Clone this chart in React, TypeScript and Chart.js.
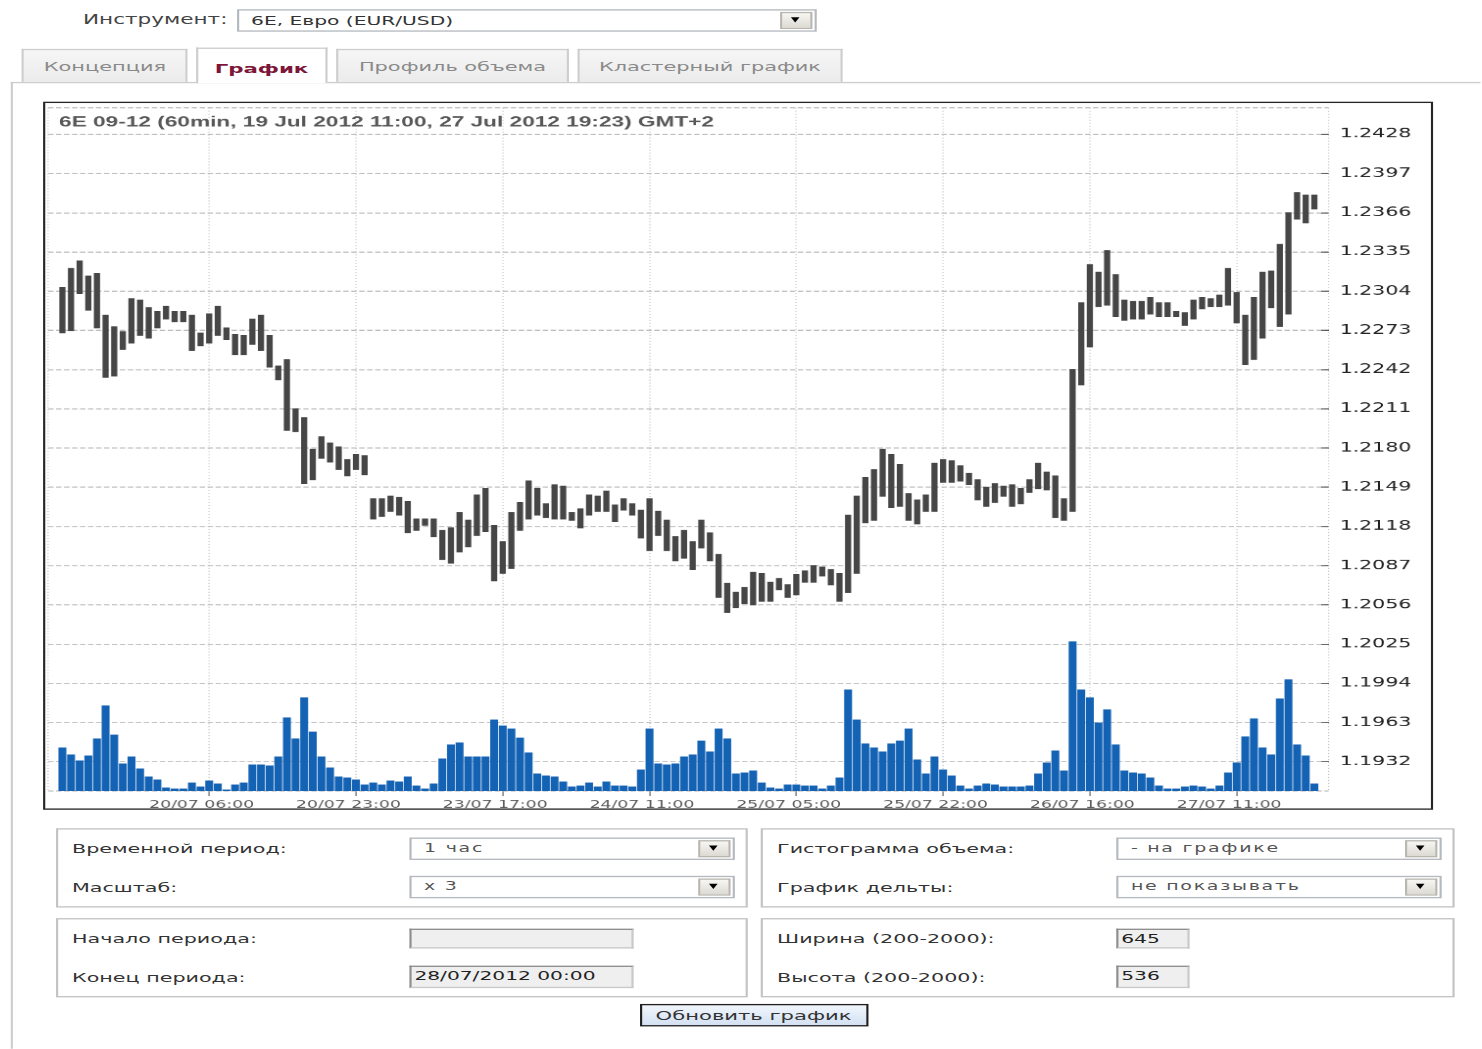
import React, { useEffect, useRef } from 'react';
import { Chart, registerables } from 'chart.js';

Chart.register(...registerables);

// The reference is a screenshot of a small page stretched non-uniformly.
const SX = 2.155;
const SY = 1.321;

const chartTitle = '6E 09-12 (60min, 19 Jul 2012 11:00, 27 Jul 2012 19:23) GMT+2';

const highs = [
  1.2307, 1.2322, 1.2328, 1.2316, 1.2318, 1.2285, 1.2276, 1.2272, 1.2298, 1.2297,
  1.2291, 1.2288, 1.2292, 1.2288, 1.2288, 1.2285, 1.2271, 1.2286, 1.2292, 1.2275,
  1.2270, 1.2269, 1.2282, 1.2285, 1.2269, 1.2245, 1.2250, 1.2211, 1.2204, 1.2179,
  1.2189, 1.2184, 1.2181, 1.2171, 1.2175, 1.2174, 1.2140, 1.2140, 1.2142, 1.2141,
  1.2138, 1.2124, 1.2124, 1.2124, 1.2115, 1.2117, 1.2129, 1.2123, 1.2143, 1.2148,
  1.2119, 1.2106, 1.2129, 1.2137, 1.2154, 1.2148, 1.2136, 1.2151, 1.2150, 1.2129,
  1.2132, 1.2143, 1.2142, 1.2146, 1.2135, 1.2140, 1.2136, 1.2131, 1.2140, 1.2130,
  1.2123, 1.2110, 1.2115, 1.2106, 1.2123, 1.2113, 1.2096, 1.2073, 1.2066, 1.2070,
  1.2082, 1.2081, 1.2074, 1.2077, 1.2072, 1.2080, 1.2083, 1.2087, 1.2086, 1.2084,
  1.2081, 1.2127, 1.2142, 1.2157, 1.2163, 1.2179, 1.2175, 1.2167, 1.2144, 1.2139,
  1.2143, 1.2168, 1.2171, 1.2170, 1.2166, 1.2160, 1.2155, 1.2149, 1.2152, 1.2150,
  1.2151, 1.2148, 1.2155, 1.2168, 1.2161, 1.2158, 1.2140, 1.2242, 1.2295, 1.2325,
  1.2319, 1.2336, 1.2317, 1.2297, 1.2296, 1.2296, 1.2299, 1.2295, 1.2295, 1.2288,
  1.2287, 1.2297, 1.2299, 1.2298, 1.2301, 1.2322, 1.2303, 1.2285, 1.2299, 1.2319,
  1.2320, 1.2341, 1.2366, 1.2382, 1.2380, 1.2380,
];

const lows = [
  1.2271, 1.2273, 1.2302, 1.2289, 1.2275, 1.2236, 1.2237, 1.2258, 1.2263, 1.2269,
  1.2267, 1.2275, 1.2282, 1.2280, 1.2280, 1.2257, 1.2261, 1.2263, 1.2269, 1.2266,
  1.2254, 1.2254, 1.2262, 1.2257, 1.2244, 1.2234, 1.2194, 1.2193, 1.2152, 1.2155,
  1.2172, 1.2169, 1.2163, 1.2158, 1.2163, 1.2159, 1.2124, 1.2126, 1.2130, 1.2127,
  1.2113, 1.2115, 1.2119, 1.2110, 1.2092, 1.2089, 1.2098, 1.2102, 1.2111, 1.2114,
  1.2075, 1.2081, 1.2085, 1.2115, 1.2124, 1.2127, 1.2125, 1.2124, 1.2124, 1.2123,
  1.2117, 1.2127, 1.2130, 1.2130, 1.2122, 1.2131, 1.2127, 1.2109, 1.2099, 1.2111,
  1.2099, 1.2091, 1.2093, 1.2084, 1.2101, 1.2091, 1.2062, 1.2050, 1.2054, 1.2057,
  1.2056, 1.2059, 1.2059, 1.2068, 1.2062, 1.2064, 1.2074, 1.2074, 1.2079, 1.2072,
  1.2059, 1.2066, 1.2081, 1.2121, 1.2123, 1.2142, 1.2133, 1.2134, 1.2123, 1.2120,
  1.2130, 1.2130, 1.2153, 1.2153, 1.2154, 1.2151, 1.2139, 1.2134, 1.2137, 1.2142,
  1.2134, 1.2136, 1.2145, 1.2148, 1.2147, 1.2125, 1.2123, 1.2130, 1.2230, 1.2260,
  1.2292, 1.2293, 1.2284, 1.2281, 1.2282, 1.2282, 1.2286, 1.2284, 1.2284, 1.2284,
  1.2277, 1.2282, 1.2290, 1.2292, 1.2292, 1.2293, 1.2279, 1.2246, 1.2250, 1.2267,
  1.2291, 1.2276, 1.2286, 1.2361, 1.2358, 1.2369,
];

// volume, hundreds of contracts (relative)
const volumes = [
  43, 36, 30, 35, 52, 85, 56, 27, 34, 22,
  14, 11, 3, 2, 2, 8, 4, 10, 7, 1,
  6, 8, 26, 26, 25, 34, 73, 52, 93, 59,
  34, 23, 14, 13, 11, 6, 8, 6, 10, 9,
  14, 5, 2, 7, 32, 46, 48, 34, 34, 34,
  71, 65, 62, 53, 38, 17, 15, 14, 9, 4,
  5, 8, 4, 9, 5, 5, 4, 21, 62, 27,
  26, 27, 34, 36, 50, 39, 62, 52, 17, 18,
  20, 8, 3, 2, 6, 6, 5, 5, 2, 5,
  13, 101, 71, 47, 43, 39, 47, 50, 62, 31,
  17, 34, 21, 15, 5, 2, 5, 7, 6, 4,
  4, 4, 5, 17, 28, 40, 20, 149, 101, 93,
  68, 81, 46, 20, 18, 17, 13, 5, 2, 2,
  4, 5, 4, 2, 5, 18, 28, 54, 72, 43,
  36, 92, 111, 46, 35, 7,
];

const yTickValues = [
  1.1932, 1.1963, 1.1994, 1.2025, 1.2056, 1.2087, 1.2118, 1.2149, 1.2180,
  1.2211, 1.2242, 1.2273, 1.2304, 1.2335, 1.2366, 1.2397, 1.2428,
];
const xTickBars = [17, 34, 51, 68, 85, 102, 119, 136];
const xTickLabels = [
  '20/07 06:00', '20/07 23:00', '23/07 17:00', '24/07 11:00',
  '25/07 05:00', '25/07 22:00', '26/07 16:00', '27/07 11:00',
];

const GRID = '#bcbcbc';

const framePlugin = {
  id: 'plotFrame',
  beforeDatasetsDraw(chart: any) {
    const { ctx, chartArea: a } = chart;
    ctx.save();
    ctx.strokeStyle = GRID;
    const line = (x1: number, y1: number, x2: number, y2: number) => {
      ctx.beginPath();
      ctx.moveTo(x1, y1);
      ctx.lineTo(x2, y2);
      ctx.stroke();
    };
    ctx.lineWidth = 0.75;
    ctx.setLineDash([2.5, 1.2]);
    line(a.left, a.top, a.right, a.top);
    line(a.left, a.bottom, a.right, a.bottom);
    ctx.lineWidth = 0.5;
    ctx.setLineDash([0.76, 1.5]);
    line(a.left, a.top, a.left, a.bottom);
    line(a.right, a.top, a.right, a.bottom);
    ctx.setLineDash([]);
    ctx.fillStyle = '#585858';
    ctx.font = 'bold 10.5px "Liberation Sans", Arial, sans-serif';
    ctx.textBaseline = 'middle';
    ctx.textAlign = 'left';
    ctx.fillText(chartTitle, a.left + 5.1, a.top + 11.3);
    ctx.restore();
  },
};

function PriceChart() {
  const ref = useRef<HTMLCanvasElement | null>(null);
  useEffect(() => {
    if (!ref.current) return;
    const priceData = highs.map((h, i) => ({ x: i, y: [lows[i], h] }));
    const volData = volumes.map((v, i) => ({ x: i, y: v }));
    const chart = new Chart(ref.current, {
      type: 'bar',
      data: {
        datasets: [
          {
            label: 'Price',
            data: priceData as any,
            backgroundColor: '#464646',
            barThickness: 2.2,
            grouped: false,
            yAxisID: 'y',
            order: 1,
          } as any,
          {
            label: 'Volume',
            data: volData as any,
            backgroundColor: '#1462b4',
            barThickness: 3.0,
            grouped: false,
            yAxisID: 'yv',
            order: 2,
          } as any,
        ],
      },
      options: {
        animation: false,
        responsive: false,
        devicePixelRatio: 2.2,
        events: [],
        layout: { padding: { left: 1.3, top: 3.56, right: 0, bottom: 0 } },
        plugins: {
          legend: { display: false },
          tooltip: { enabled: false },
          title: { display: false },
        },
        scales: {
          x: {
            type: 'linear',
            min: -1.66,
            max: 146.66,
            offset: false,
            afterBuildTicks: (s: any) => {
              s.ticks = xTickBars.map((v) => ({ value: v }));
            },
            afterFit: (s: any) => {
              s.height = 13.6;
              s.paddingLeft = 0;
              s.paddingRight = 0;
            },
            grid: {
              offset: false,
              color: GRID,
              lineWidth: 0.5,
              tickLength: 3.8,
              tickColor: '#555',
              tickWidth: 0.5,
            },
            border: { display: false, dash: [0.76, 1.5] },
            ticks: {
              autoSkip: false,
              maxRotation: 0,
              minRotation: 0,
              padding: 2,
              labelOffset: -3.5,
              color: '#5a5a5a',
              font: { family: '"DejaVu Sans", sans-serif', size: 8 },
              callback: (_v: any, i: number) => xTickLabels[i] ?? '',
            },
          },
          y: {
            position: 'right',
            min: 1.1909,
            max: 1.2449,
            afterBuildTicks: (s: any) => {
              s.ticks = yTickValues.map((v) => ({ value: v }));
            },
            afterFit: (s: any) => {
              s.width = 47.7;
              s.paddingTop = 0;
              s.paddingBottom = 0;
            },
            grid: {
              color: GRID,
              lineWidth: 0.75,
              tickLength: -3.5,
              tickColor: '#555',
              tickWidth: 0.75,
            },
            border: { display: false, dash: [2.5, 1.2] },
            ticks: {
              padding: 8.6,
              color: '#222',
              font: { family: '"DejaVu Sans", sans-serif', size: 9.5 },
              callback: (v: any) => Number(v).toFixed(4),
            },
          },
          yv: {
            display: false,
            min: 0,
            max: 682.7,
          },
        },
      } as any,
      plugins: [framePlugin],
    });
    return () => chart.destroy();
  }, []);
  return <canvas ref={ref} width={643} height={534} style={{ display: 'block' }} />;
}

const FONT = '"DejaVu Sans", Verdana, sans-serif';

function Txt(props: { x: number; y: number; size?: number; bold?: boolean; color?: string; children: React.ReactNode; spacing?: number }) {
  const size = props.size ?? 9.6;
  return (
    <div
      style={{
        position: 'absolute',
        left: props.x,
        top: props.y - size * 0.6,
        height: size * 1.2,
        lineHeight: `${size * 1.2}px`,
        fontSize: size,
        fontWeight: props.bold ? 'bold' : 'normal',
        color: props.color ?? '#333',
        whiteSpace: 'nowrap',
        letterSpacing: props.spacing ?? 0,
      }}
    >
      {props.children}
    </div>
  );
}

function Arrow() {
  return (
    <div
      style={{
        position: 'absolute',
        right: 1,
        top: 1,
        bottom: 1,
        width: 15,
        boxSizing: 'border-box',
        background: 'linear-gradient(#f7f6f2, #dcdad3)',
        border: '1px solid #b8b6ae',
      }}
    >
      <div
        style={{
          position: 'absolute',
          left: '50%',
          top: '50%',
          marginLeft: -2.6,
          marginTop: -2,
          width: 0,
          height: 0,
          borderLeft: '2.6px solid transparent',
          borderRight: '2.6px solid transparent',
          borderTop: '4px solid #000',
        }}
      />
    </div>
  );
}

function Select(props: { x: number; y: number; w: number; h: number; text: string; size?: number; spacing?: number; color?: string }) {
  const size = props.size ?? 8.8;
  return (
    <div
      style={{
        position: 'absolute',
        left: props.x,
        top: props.y,
        width: props.w,
        height: props.h,
        boxSizing: 'border-box',
        border: '1px solid #b4b9bf',
        background: '#fff',
      }}
    >
      <div
        style={{
          position: 'absolute',
          left: 5.5,
          top: 0,
          height: props.h - 2,
          lineHeight: `${props.h - 2}px`,
          fontSize: size,
          color: props.color ?? '#555',
          letterSpacing: props.spacing ?? 0,
          whiteSpace: 'nowrap',
        }}
      >
        {props.text}
      </div>
      <Arrow />
    </div>
  );
}

function Input(props: { x: number; y: number; w: number; h: number; text?: string }) {
  return (
    <div
      style={{
        position: 'absolute',
        left: props.x,
        top: props.y,
        width: props.w,
        height: props.h,
        boxSizing: 'border-box',
        borderTop: '1px solid #8e8e8e',
        borderLeft: '1px solid #8e8e8e',
        borderRight: '1px solid #c9c9c9',
        borderBottom: '1px solid #c9c9c9',
        background: '#efefef',
        fontSize: 9.4,
        lineHeight: `${props.h - 2}px`,
        paddingLeft: 1.0,
        color: '#222',
        whiteSpace: 'nowrap',
      }}
    >
      {props.text ?? ''}
    </div>
  );
}

function Box(props: { x: number; y: number; w: number; h: number }) {
  return (
    <div
      style={{
        position: 'absolute',
        left: props.x,
        top: props.y,
        width: props.w,
        height: props.h,
        boxSizing: 'border-box',
        border: '1px solid #c3c3c3',
      }}
    />
  );
}

function Tab(props: { x: number; w: number; text: string; active?: boolean }) {
  const active = !!props.active;
  return (
    <div
      style={{
        position: 'absolute',
        left: props.x,
        top: active ? 35.6 : 37.1,
        width: props.w,
        height: active ? 27.6 : 25,
        boxSizing: 'border-box',
        border: '1px solid #cdcdcd',
        borderBottom: 'none',
        background: active ? '#fff' : 'linear-gradient(#f6f6f6, #ebebeb)',
        textAlign: 'center',
        lineHeight: active ? '29px' : '26.4px',
        fontSize: active ? 9.9 : 9.7,
        fontWeight: active ? 'bold' : 'normal',
        color: active ? '#7d1638' : '#8a8a8a',
        zIndex: active ? 2 : 1,
        whiteSpace: 'nowrap',
      }}
    >
      {props.text}
    </div>
  );
}

export default function App() {
  return (
    <>
      <style>{'html,body{overflow:hidden;background:#fff;}'}</style>
      <div
        style={{
          position: 'absolute',
          left: 0,
          top: 0,
          width: 687,
          height: 794,
          transform: `scale(${SX}, ${SY})`,
          transformOrigin: '0 0',
          fontFamily: FONT,
          background: '#fff',
          overflow: 'hidden',
        }}
      >
        <Txt x={38.5} y={15.4} size={10} color="#444">Инструмент:</Txt>
        <Select x={110} y={6.8} w={269} h={17.4} text="6E, Евро (EUR/USD)" size={9.4} color="#333" />

        <div
          style={{
            position: 'absolute',
            left: 4.6,
            top: 62.1,
            width: 684,
            height: 740,
            boxSizing: 'border-box',
            borderTop: '1px solid #cdcdcd',
            borderLeft: '1px solid #cdcdcd',
          }}
        />
        <Tab x={10.2} w={77} text="Концепция" />
        <Tab x={90.5} w={61.7} text="График" active />
        <Tab x={156.4} w={107.2} text="Профиль объема" />
        <Tab x={268.2} w={122.5} text="Кластерный график" />

        <div
          style={{
            position: 'absolute',
            left: 20.4,
            top: 77.2,
            width: 645,
            height: 536,
            boxSizing: 'border-box',
            border: '1px solid #262626',
            background: '#fff',
          }}
        >
          <PriceChart />
        </div>

        <Box x={25.5} y={626.8} w={321.1} h={60.6} />
        <Box x={353.1} y={626.8} w={322.1} h={60.6} />
        <Box x={25.5} y={694.9} w={321.1} h={59.8} />
        <Box x={353.1} y={694.9} w={322.1} h={59.8} />

        <Txt x={33.4} y={643}>Временной период:</Txt>
        <Txt x={33.4} y={671.8}>Масштаб:</Txt>
        <Select x={190.3} y={633.6} w={150.8} h={17.4} text="1 час" spacing={0.8} />
        <Select x={190.3} y={663.1} w={150.8} h={16.7} text="x 3" spacing={0.8} />

        <Txt x={360.6} y={643}>Гистограмма объема:</Txt>
        <Txt x={360.6} y={671.8}>График дельты:</Txt>
        <Select x={518.3} y={633.6} w={150.4} h={17.4} text="- на графике" spacing={0.8} />
        <Select x={518.3} y={663.1} w={150.4} h={16.7} text="не показывать" spacing={0.8} />

        <Txt x={33.4} y={711.1}>Начало периода:</Txt>
        <Txt x={33.4} y={739.9}>Конец периода:</Txt>
        <Input x={190.3} y={702.5} w={103.4} h={15.9} />
        <Input x={190.3} y={731.3} w={103.4} h={16.6} text="28/07/2012 00:00" />

        <Txt x={360.6} y={711.1}>Ширина (200-2000):</Txt>
        <Txt x={360.6} y={739.9}>Высота (200-2000):</Txt>
        <Input x={518.3} y={702.5} w={33.4} h={15.9} text="645" />
        <Input x={518.3} y={731.3} w={33.4} h={16.6} text="536" />

        <div
          style={{
            position: 'absolute',
            left: 296.5,
            top: 760,
            width: 106.3,
            height: 17.4,
            boxSizing: 'border-box',
            border: '1px solid #1e1e1e',
            background: 'linear-gradient(#f1f6fc, #d3e1f2)',
            textAlign: 'center',
            lineHeight: '15.4px',
            fontSize: 9.8,
            color: '#333',
            whiteSpace: 'nowrap',
          }}
        >
          Обновить график
        </div>
      </div>
    </>
  );
}
